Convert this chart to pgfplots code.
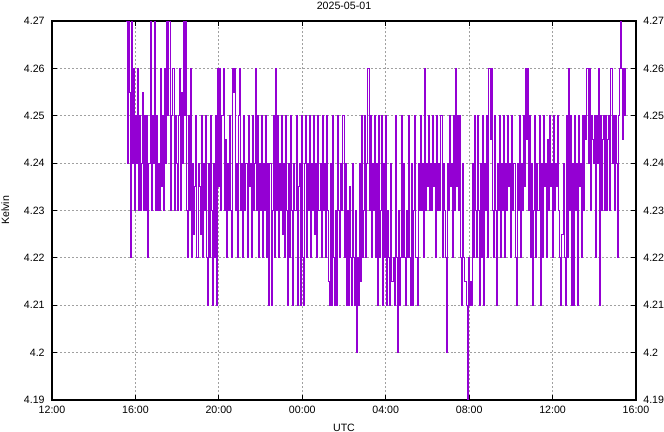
\documentclass[border=0pt]{standalone}
\usepackage{fontspec}
\setmainfont{Liberation Sans}
\usepackage{pgfplots}
\pgfplotsset{compat=1.18}
\definecolor{plotviolet}{RGB}{148,0,211}
\definecolor{gridgray}{RGB}{160,160,160}

\begin{document}
\begin{tikzpicture}
\useasboundingbox (-39bp,-24bp) rectangle (459bp,300bp);
\pgfplotsset{
  kelvinaxis/.style={
    scale only axis,
    width=438bp, height=284.25bp,
    at={(0,0)}, anchor=south west,
    xmin=0, xmax=1680,
    ymin=4.19, ymax=4.27,
    ytick={4.19,4.2,4.21,4.22,4.23,4.24,4.25,4.26,4.27},
    yticklabels={4.19,4.2,4.21,4.22,4.23,4.24,4.25,4.26,4.27},
    ticklabel style={font=\fontsize{8}{9}\selectfont},
    tick align=inside,
    major tick length=4bp,
    tick style={black, line width=0.8pt},
  }
}
\begin{axis}[
    kelvinaxis,
    axis line style={line width=0.8pt},
    xtick={0,240,480,720,960,1200,1440,1680},
    xticklabels={12:00,16:00,20:00,00:00,04:00,08:00,12:00,16:00},
    xticklabel style={yshift=-1bp},
    yticklabel style={xshift=-2bp},
    grid=major,
    grid style={gridgray, dash pattern=on 1.5pt off 1.5pt, line width=0.6pt},
    every axis title shift=0pt,
    title={2025-05-01},
    title style={at={(axis description cs:0.5,1)}, anchor=center, yshift=11.5bp, font=\fontsize{8}{9}\selectfont},
    xlabel={UTC},
    xlabel style={at={(axis description cs:0.5,0)}, anchor=center, yshift=-21bp, font=\fontsize{8}{9}\selectfont},
    ylabel={Kelvin},
    ylabel style={at={(axis description cs:-0.08,0.5)}, anchor=center, font=\fontsize{8}{9}\selectfont},
]
\addplot[const plot, color=plotviolet, line width=0.75pt] coordinates {
(213,4.27) (216,4.24) (219,4.27) (222,4.255) (225,4.22) (228,4.27) (231,4.24) (234,4.26) (237,4.23) (240,4.25)
(243,4.24) (246,4.26) (249,4.23) (252,4.25) (255,4.23) (258,4.24) (261,4.255) (264,4.23) (267,4.25) (270,4.23)
(273,4.25) (276,4.22) (279,4.24) (282,4.27) (285,4.23) (288,4.25) (291,4.24) (294,4.27) (297,4.23) (300,4.25)
(303,4.23) (306,4.24) (309,4.23) (312,4.26) (315,4.235) (318,4.25) (321,4.23) (324,4.26) (327,4.24) (330,4.27)
(333,4.25) (336,4.27) (339,4.27) (342,4.23) (345,4.25) (348,4.26) (351,4.23) (354,4.25) (357,4.24) (360,4.23)
(363,4.25) (366,4.26) (369,4.23) (372,4.255) (375,4.24) (378,4.27) (381,4.25) (384,4.27) (387,4.23) (390,4.22)
(393,4.25) (396,4.23) (399,4.26) (402,4.22) (405,4.24) (408,4.225) (411,4.235) (414,4.25) (417,4.22) (420,4.24)
(423,4.235) (426,4.225) (429,4.25) (432,4.22) (435,4.24) (438,4.23) (441,4.25) (444,4.22) (447,4.21) (450,4.24)
(453,4.22) (456,4.25) (459,4.23) (462,4.21) (465,4.24) (468,4.22) (471,4.25) (474,4.21) (477,4.26) (480,4.235)
(483,4.26) (486,4.23) (489,4.25) (492,4.26) (495,4.23) (498,4.245) (501,4.22) (504,4.24) (507,4.23) (510,4.25)
(513,4.23) (516,4.22) (519,4.26) (522,4.255) (525,4.26) (528,4.23) (531,4.24) (534,4.22) (537,4.25) (540,4.26)
(543,4.23) (546,4.24) (549,4.22) (552,4.25) (555,4.23) (558,4.24) (561,4.22) (564,4.25) (567,4.235) (570,4.24)
(573,4.22) (576,4.25) (579,4.23) (582,4.24) (585,4.26) (588,4.23) (591,4.25) (594,4.22) (597,4.24) (600,4.23)
(603,4.25) (606,4.22) (609,4.24) (612,4.23) (615,4.25) (618,4.22) (621,4.24) (624,4.21) (627,4.24) (630,4.21)
(633,4.23) (636,4.25) (639,4.22) (642,4.26) (645,4.23) (648,4.25) (651,4.22) (654,4.24) (657,4.23) (660,4.25)
(663,4.225) (666,4.24) (669,4.22) (672,4.25) (675,4.23) (678,4.21) (681,4.24) (684,4.22) (687,4.25) (690,4.23)
(693,4.21) (696,4.24) (699,4.23) (702,4.25) (705,4.21) (708,4.235) (711,4.24) (714,4.21) (717,4.25) (720,4.22)
(723,4.21) (726,4.24) (729,4.25) (732,4.22) (735,4.24) (738,4.23) (741,4.25) (744,4.22) (747,4.24) (750,4.23)
(753,4.25) (756,4.225) (759,4.24) (762,4.22) (765,4.25) (768,4.23) (771,4.24) (774,4.22) (777,4.25) (780,4.23)
(783,4.24) (786,4.22) (789,4.25) (792,4.23) (795,4.215) (798,4.21) (801,4.24) (804,4.21) (807,4.25) (810,4.22)
(813,4.21) (816,4.23) (819,4.21) (822,4.25) (825,4.23) (828,4.22) (831,4.24) (834,4.23) (837,4.25) (840,4.22)
(843,4.24) (846,4.21) (849,4.23) (852,4.21) (855,4.235) (858,4.22) (861,4.21) (864,4.24) (867,4.22) (870,4.21)
(873,4.23) (876,4.20) (879,4.22) (882,4.21) (885,4.24) (888,4.215) (891,4.25) (894,4.22) (897,4.23) (900,4.25)
(903,4.22) (906,4.24) (909,4.26) (912,4.23) (915,4.25) (918,4.22) (921,4.24) (924,4.23) (927,4.25) (930,4.22)
(933,4.24) (936,4.21) (939,4.25) (942,4.22) (945,4.23) (948,4.25) (951,4.21) (954,4.24) (957,4.22) (960,4.25)
(963,4.21) (966,4.23) (969,4.22) (972,4.21) (975,4.24) (978,4.215) (981,4.22) (984,4.21) (987,4.25) (990,4.22)
(993,4.20) (996,4.23) (999,4.21) (1002,4.22) (1005,4.25) (1008,4.22) (1011,4.24) (1014,4.22) (1017,4.21) (1020,4.23)
(1023,4.22) (1026,4.25) (1029,4.22) (1032,4.21) (1035,4.24) (1038,4.21) (1041,4.23) (1044,4.25) (1047,4.22) (1050,4.21)
(1053,4.24) (1056,4.23) (1059,4.25) (1062,4.23) (1065,4.24) (1068,4.22) (1071,4.26) (1074,4.23) (1077,4.24) (1080,4.235)
(1083,4.25) (1086,4.23) (1089,4.24) (1092,4.23) (1095,4.25) (1098,4.235) (1101,4.24) (1104,4.22) (1107,4.25) (1110,4.23)
(1113,4.24) (1116,4.23) (1119,4.25) (1122,4.22) (1125,4.24) (1128,4.23) (1131,4.22) (1134,4.20) (1137,4.24) (1140,4.23)
(1143,4.25) (1146,4.235) (1149,4.24) (1152,4.22) (1155,4.25) (1158,4.23) (1161,4.26) (1164,4.235) (1167,4.25) (1170,4.23)
(1173,4.25) (1176,4.22) (1179,4.21) (1182,4.24) (1185,4.22) (1188,4.215) (1191,4.21) (1194,4.19) (1197,4.22) (1200,4.21)
(1203,4.215) (1206,4.21) (1209,4.24) (1212,4.22) (1215,4.25) (1218,4.23) (1221,4.22) (1224,4.25) (1227,4.23) (1230,4.21)
(1233,4.24) (1236,4.22) (1239,4.25) (1242,4.21) (1245,4.24) (1248,4.23) (1251,4.25) (1254,4.22) (1257,4.26) (1260,4.245)
(1263,4.26) (1266,4.23) (1269,4.22) (1272,4.25) (1275,4.23) (1278,4.21) (1281,4.24) (1284,4.23) (1287,4.25) (1290,4.22)
(1293,4.24) (1296,4.23) (1299,4.25) (1302,4.22) (1305,4.24) (1308,4.23) (1311,4.25) (1314,4.235) (1317,4.24) (1320,4.22)
(1323,4.25) (1326,4.23) (1329,4.24) (1332,4.22) (1335,4.21) (1338,4.24) (1341,4.23) (1344,4.25) (1347,4.22) (1350,4.24)
(1353,4.23) (1356,4.25) (1359,4.235) (1362,4.26) (1365,4.245) (1368,4.26) (1371,4.23) (1374,4.25) (1377,4.22) (1380,4.24)
(1383,4.21) (1386,4.23) (1389,4.25) (1392,4.22) (1395,4.24) (1398,4.23) (1401,4.25) (1404,4.21) (1407,4.24) (1410,4.22)
(1413,4.25) (1416,4.235) (1419,4.24) (1422,4.22) (1425,4.245) (1428,4.23) (1431,4.25) (1434,4.235) (1437,4.24) (1440,4.22)
(1443,4.25) (1446,4.23) (1449,4.24) (1452,4.235) (1455,4.25) (1458,4.23) (1461,4.22) (1464,4.21) (1467,4.225) (1470,4.24)
(1473,4.22) (1476,4.21) (1479,4.25) (1482,4.22) (1485,4.26) (1488,4.23) (1491,4.25) (1494,4.21) (1497,4.24) (1500,4.21)
(1503,4.25) (1506,4.23) (1509,4.24) (1512,4.21) (1515,4.25) (1518,4.235) (1521,4.24) (1524,4.22) (1527,4.25) (1530,4.23)
(1533,4.25) (1536,4.245) (1539,4.26) (1542,4.24) (1545,4.26) (1548,4.23) (1551,4.25) (1554,4.245) (1557,4.24) (1560,4.25)
(1563,4.22) (1566,4.25) (1569,4.24) (1572,4.26) (1575,4.21) (1578,4.25) (1581,4.23) (1584,4.245) (1587,4.25) (1590,4.23)
(1593,4.25) (1596,4.23) (1599,4.245) (1602,4.25) (1605,4.23) (1608,4.26) (1611,4.24) (1614,4.25) (1617,4.23) (1620,4.25)
(1623,4.24) (1626,4.22) (1629,4.25) (1632,4.26) (1635,4.27) (1638,4.26) (1641,4.245) (1644,4.26) (1647,4.25) (1650,4.26)
};
\end{axis}
\begin{axis}[
    kelvinaxis,
    axis x line=none,
    axis y line*=right,
    axis line style={line width=0.8pt},
    yticklabel style={xshift=2bp},
]
\addplot[draw=none] coordinates {(0,4.19) (1680,4.27)};
\end{axis}
\end{tikzpicture}
\end{document}
